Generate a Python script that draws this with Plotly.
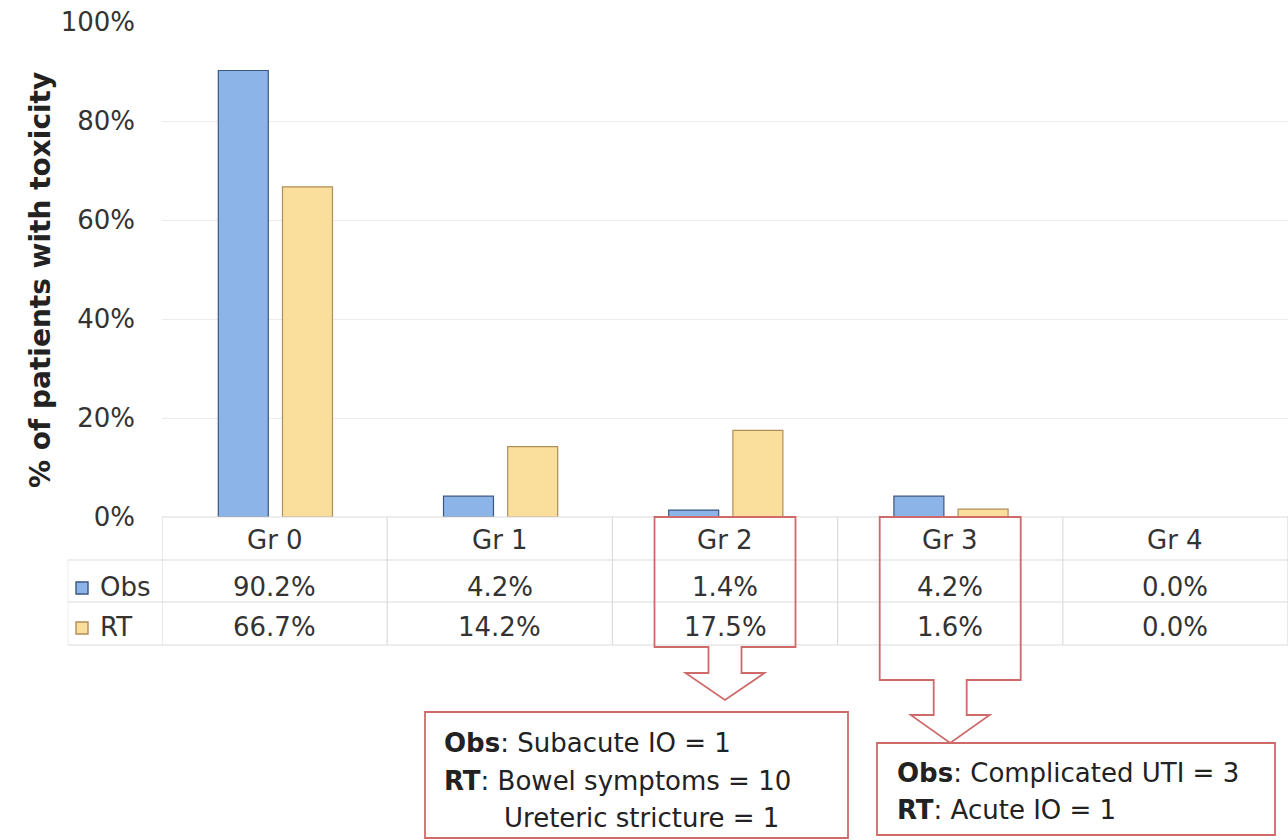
import plotly.graph_objects as go

# ---- data ----
grades = ["Gr 0", "Gr 1", "Gr 2", "Gr 3", "Gr 4"]
obs_pct = [90.2, 4.2, 1.4, 4.2, 0.0]
rt_pct = [66.7, 14.2, 17.5, 1.6, 0.0]
series_names = ["Obs", "RT"]
y_ticks = [0, 20, 40, 60, 80, 100]
callouts = {
    2: ["<b>Obs</b>: Subacute IO = 1",
        "<b>RT</b>: Bowel symptoms = 10",
        "Ureteric stricture = 1"],
    3: ["<b>Obs</b>: Complicated UTI = 3",
        "<b>RT</b>: Acute IO = 1"],
}

# ---- layout constants (pixels) ----
W, H = 1288, 840
L, R, T, B = 162, 0, 22, 323
PW, PH = W - L - R, H - T - B
FONT = "DejaVu Sans, Liberation Sans, Arial, sans-serif"
FS = 26
TXT = "#333333"
GRID = "#dcdcdc"
RED = "#cf6a6a"
OBS_FILL, OBS_LINE = "#8db4e8", "#3b5780"
RT_FILL, RT_LINE = "#fadf9c", "#b08e58"


def px(xp):
    return (xp - L) / PW


def py(yp):
    return (H - B - yp) / PH


x_idx = list(range(len(grades)))


def outline_widths(vals):
    return [1.2 if v > 0 else 0 for v in vals]


fig = go.Figure()
fig.add_trace(go.Bar(
    x=x_idx, y=obs_pct, name=series_names[0], width=0.222, offset=-0.25,
    marker=dict(color=OBS_FILL, line=dict(color=OBS_LINE, width=outline_widths(obs_pct))),
    showlegend=False, hoverinfo="skip"))
fig.add_trace(go.Bar(
    x=x_idx, y=rt_pct, name=series_names[1], width=0.222, offset=0.035,
    marker=dict(color=RT_FILL, line=dict(color=RT_LINE, width=outline_widths(rt_pct))),
    showlegend=False, hoverinfo="skip"))

shapes = []
annotations = []


def label(x, y, text, xref="paper", xanchor="center", size=FS, color=TXT, **kw):
    annotations.append(dict(x=x, y=y, xref=xref, yref="paper", text=text,
                            showarrow=False, xanchor=xanchor, yanchor="middle",
                            font=dict(family=FONT, size=size, color=color), **kw))


# ---- data table under the axis ----
row_lines = [517, 560, 602, 645]
for i, yl in enumerate(row_lines):
    x0 = 0 if i == 0 else px(68)
    shapes.append(dict(type="line", xref="paper", yref="paper",
                       x0=x0, x1=1, y0=py(yl), y1=py(yl),
                       line=dict(color=GRID, width=1.2)))
for k in range(len(grades) + 1):
    xv = k - 0.5
    shapes.append(dict(type="line", xref="x", yref="paper",
                       x0=xv, x1=xv, y0=py(517), y1=py(645),
                       line=dict(color=GRID, width=1.2)))
shapes.append(dict(type="line", xref="paper", yref="paper",
                   x0=px(68), x1=px(68), y0=py(560), y1=py(645),
                   line=dict(color="#ececec", width=1)))

row_y = {"head": 540, 0: 587, 1: 627}
for i, g in enumerate(grades):
    label(i, py(row_y["head"]), g, xref="x")
    for s, vals in enumerate([obs_pct, rt_pct]):
        label(i, py(row_y[s]), f"{vals[i]:.1f}%", xref="x")

# legend keys in the table's first column
for s, (name, fc, lc) in enumerate([(series_names[0], OBS_FILL, OBS_LINE),
                                    (series_names[1], RT_FILL, RT_LINE)]):
    yc = row_y[s]
    shapes.append(dict(type="rect", xref="paper", yref="paper",
                       x0=px(76), x1=px(88), y0=py(yc + 7), y1=py(yc - 5),
                       fillcolor=fc, line=dict(color=lc, width=1.4)))
    label(px(98), py(yc), name, xanchor="left")

# ---- callout arrows around Gr 2 and Gr 3 ----
cat_px = PW / len(grades)
arrow_geom = {2: (647, 673, 700), 3: (680, 715, 743)}
for ci, (box_bot, stem_bot, tip) in arrow_geom.items():
    cx = L + (ci + 0.5) * cat_px
    hb, hs, hh = 70.5, 16.5, 39.5
    pts = [(cx - hb, 517), (cx + hb, 517), (cx + hb, box_bot),
           (cx + hs, box_bot), (cx + hs, stem_bot), (cx + hh, stem_bot),
           (cx, tip), (cx - hh, stem_bot), (cx - hs, stem_bot),
           (cx - hs, box_bot), (cx - hb, box_bot)]
    path = "M " + " L ".join(f"{px(a):.5f},{py(b):.5f}" for a, b in pts) + " Z"
    shapes.append(dict(type="path", xref="paper", yref="paper", path=path,
                       line=dict(color=RED, width=1.8), fillcolor="rgba(0,0,0,0)"))

# ---- note boxes ----
note_boxes = {2: (425, 712, 848, 838, [442, 442, 502], [743, 781, 818]),
              3: (877, 743, 1275, 835, [895, 895], [773, 810])}
for ci, (x0, y0, x1, y1, txs, ys) in note_boxes.items():
    shapes.append(dict(type="rect", xref="paper", yref="paper",
                       x0=px(x0), x1=px(x1), y0=py(y1), y1=py(y0),
                       line=dict(color=RED, width=1.8), fillcolor="white"))
    for line_txt, tx, yy in zip(callouts[ci], txs, ys):
        label(px(tx), py(yy), line_txt, xanchor="left", color="#222222")

# ---- axis title ----
label(px(40), py(280), "<b>% of patients with toxicity</b>", size=28,
      color="#222222", textangle=-90)

fig.update_layout(
    width=W, height=H,
    margin=dict(l=L, r=R, t=T, b=B),
    paper_bgcolor="white", plot_bgcolor="white",
    barmode="overlay",
    shapes=shapes, annotations=annotations,
    xaxis=dict(range=[-0.5, len(grades) - 0.5], showticklabels=False,
               showgrid=False, zeroline=False, showline=False, ticks=""),
    yaxis=dict(range=[0, 100], tickvals=y_ticks,
               ticktext=[f"{v}%" for v in y_ticks],
               showgrid=True, gridcolor="#ececec", gridwidth=1.2,
               zeroline=False, showline=False, ticks="",
               ticklabelstandoff=26,
               tickfont=dict(family=FONT, size=FS, color=TXT)),
)

fig.write_html("out.html")
